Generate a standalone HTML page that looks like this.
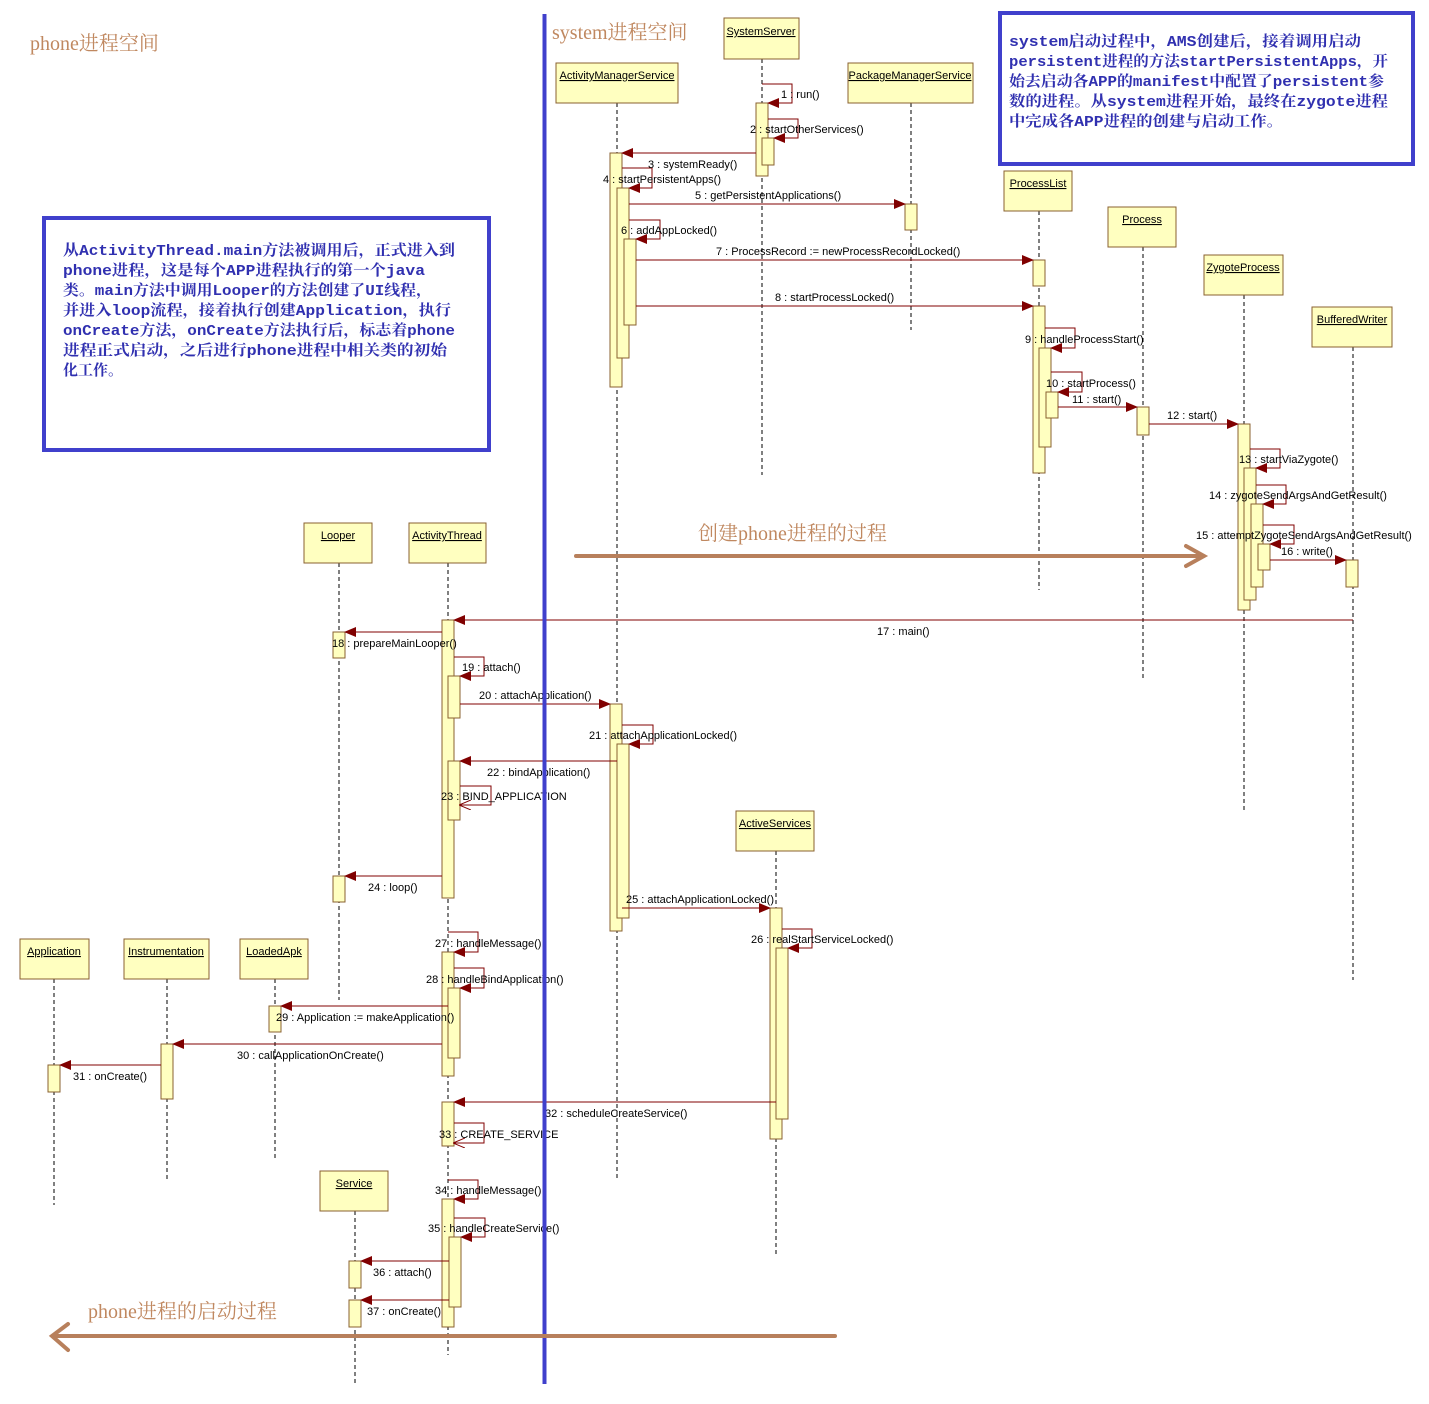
<!DOCTYPE html>
<html><head><meta charset="utf-8"><style>
html,body{margin:0;padding:0;background:#fff}
svg{display:block}
.m{font-family:"Liberation Sans",sans-serif;font-size:11px;fill:#000}
.c{font-family:"Liberation Sans",sans-serif;font-size:11px;fill:#000;text-decoration:underline;text-anchor:middle}
.bx{fill:#ffffc0;stroke:#8a6030;stroke-width:1}
.ll{stroke:#000;stroke-width:1;stroke-dasharray:4,3}
.ar{stroke:#800000;stroke-width:1;fill:none}
.bt{font-family:"Liberation Mono","Noto Serif CJK SC",serif;font-size:15px;font-weight:bold;fill:#3030b0}
.ot{font-family:"Liberation Serif","Noto Serif CJK SC",serif;font-size:20px;fill:#c08860}
</style></head><body>
<svg width="1429" height="1404" xmlns="http://www.w3.org/2000/svg">
<defs>
<marker id="a" markerWidth="12" markerHeight="10" refX="11" refY="5" orient="auto" markerUnits="userSpaceOnUse"><path d="M0,0 L12,5 L0,10 z" fill="#800000"/></marker>
<marker id="o" markerWidth="12" markerHeight="10" refX="11" refY="5" orient="auto" markerUnits="userSpaceOnUse"><path d="M0,0 L12,5 L0,10" fill="none" stroke="#800000"/></marker>
</defs>

<!-- lifelines -->
<g class="ll">
<line x1="762" y1="59" x2="762" y2="475"/>
<line x1="617" y1="103" x2="617" y2="1180"/>
<line x1="911" y1="103" x2="911" y2="330"/>
<line x1="1039" y1="211" x2="1039" y2="590"/>
<line x1="1143" y1="247" x2="1143" y2="680"/>
<line x1="1244" y1="295" x2="1244" y2="810"/>
<line x1="1353" y1="347" x2="1353" y2="980"/>
<line x1="339" y1="563" x2="339" y2="1000"/>
<line x1="448" y1="563" x2="448" y2="1355"/>
<line x1="776" y1="851" x2="776" y2="1255"/>
<line x1="54" y1="979" x2="54" y2="1205"/>
<line x1="167" y1="979" x2="167" y2="1180"/>
<line x1="275" y1="979" x2="275" y2="1160"/>
<line x1="355" y1="1211" x2="355" y2="1385"/>
</g>

<!-- class boxes -->
<g>
<rect class="bx" x="724" y="18" width="75" height="41"/><text class="c" x="761" y="35">SystemServer</text>
<rect class="bx" x="556" y="63" width="122" height="40"/><text class="c" x="617" y="79">ActivityManagerService</text>
<rect class="bx" x="848" y="63" width="125" height="40"/><text class="c" x="910" y="79">PackageManagerService</text>
<rect class="bx" x="1004" y="171" width="68" height="40"/><text class="c" x="1038" y="187">ProcessList</text>
<rect class="bx" x="1108" y="207" width="68" height="40"/><text class="c" x="1142" y="223">Process</text>
<rect class="bx" x="1204" y="255" width="79" height="40"/><text class="c" x="1243" y="271">ZygoteProcess</text>
<rect class="bx" x="1312" y="307" width="80" height="40"/><text class="c" x="1352" y="323">BufferedWriter</text>
<rect class="bx" x="304" y="523" width="68" height="40"/><text class="c" x="338" y="539">Looper</text>
<rect class="bx" x="409" y="523" width="77" height="40"/><text class="c" x="447" y="539">ActivityThread</text>
<rect class="bx" x="736" y="811" width="78" height="40"/><text class="c" x="775" y="827">ActiveServices</text>
<rect class="bx" x="20" y="939" width="69" height="40"/><text class="c" x="54" y="955">Application</text>
<rect class="bx" x="124" y="939" width="85" height="40"/><text class="c" x="166" y="955">Instrumentation</text>
<rect class="bx" x="240" y="939" width="68" height="40"/><text class="c" x="274" y="955">LoadedApk</text>
<rect class="bx" x="320" y="1171" width="68" height="40"/><text class="c" x="354" y="1187">Service</text>
</g>

<!-- activation bars -->
<g>
<rect class="bx" x="756" y="103" width="12" height="73"/><rect class="bx" x="762" y="138" width="12" height="27"/>
<rect class="bx" x="610" y="153" width="12" height="234"/><rect class="bx" x="617" y="188" width="12" height="170"/><rect class="bx" x="624" y="239" width="12" height="86"/>
<rect class="bx" x="905" y="204" width="12" height="26"/>
<rect class="bx" x="1033" y="260" width="12" height="26"/>
<rect class="bx" x="1033" y="306" width="12" height="167"/><rect class="bx" x="1039" y="348" width="12" height="99"/><rect class="bx" x="1046" y="392" width="12" height="26"/>
<rect class="bx" x="1137" y="407" width="12" height="28"/>
<rect class="bx" x="1238" y="424" width="12" height="186"/><rect class="bx" x="1244" y="468" width="12" height="132"/><rect class="bx" x="1251" y="504" width="12" height="83"/><rect class="bx" x="1258" y="544" width="12" height="26"/>
<rect class="bx" x="1346" y="560" width="12" height="27"/>
<rect class="bx" x="442" y="620" width="12" height="278"/><rect class="bx" x="448" y="676" width="12" height="42"/><rect class="bx" x="448" y="761" width="12" height="59"/>
<rect class="bx" x="333" y="632" width="12" height="26"/><rect class="bx" x="333" y="876" width="12" height="26"/>
<rect class="bx" x="610" y="704" width="12" height="227"/><rect class="bx" x="617" y="744" width="12" height="174"/>
<rect class="bx" x="770" y="908" width="12" height="231"/><rect class="bx" x="776" y="948" width="12" height="171"/>
<rect class="bx" x="442" y="952" width="12" height="124"/><rect class="bx" x="448" y="988" width="12" height="70"/>
<rect class="bx" x="269" y="1006" width="12" height="26"/>
<rect class="bx" x="161" y="1044" width="12" height="55"/>
<rect class="bx" x="48" y="1065" width="12" height="27"/>
<rect class="bx" x="442" y="1102" width="12" height="44"/>
<rect class="bx" x="442" y="1199" width="12" height="128"/><rect class="bx" x="449" y="1237" width="12" height="70"/>
<rect class="bx" x="349" y="1261" width="12" height="27"/><rect class="bx" x="349" y="1300" width="12" height="27"/>
</g>

<!-- messages -->
<g class="ar" marker-end="url(#a)">
<path d="M762,84 H792 V103 H768"/>
<path d="M768,119 H798 V138 H774"/>
<path d="M756,153 H622"/>
<path d="M622,168 H652 V188 H629"/>
<path d="M629,204 H905"/>
<path d="M629,220 H660 V239 H636"/>
<path d="M636,260 H1033"/>
<path d="M636,306 H1033"/>
<path d="M1045,328 H1075 V348 H1051"/>
<path d="M1051,372 H1082 V392 H1058"/>
<path d="M1058,407 H1137"/>
<path d="M1149,424 H1238"/>
<path d="M1250,449 H1280 V468 H1256"/>
<path d="M1256,485 H1286 V504 H1263"/>
<path d="M1263,525 H1294 V544 H1270"/>
<path d="M1270,560 H1346"/>
<path d="M1353,620 H454"/>
<path d="M442,632 H345"/>
<path d="M454,657 H484 V676 H460"/>
<path d="M460,704 H610"/>
<path d="M622,725 H653 V744 H629"/>
<path d="M617,761 H460"/>
<path d="M442,876 H345"/>
<path d="M622,908 H770"/>
<path d="M782,929 H812 V948 H788"/>
<path d="M448,932 H478 V952 H454"/>
<path d="M454,968 H484 V988 H460"/>
<path d="M448,1006 H281"/>
<path d="M442,1044 H173"/>
<path d="M161,1065 H60"/>
<path d="M776,1102 H454"/>
<path d="M448,1180 H478 V1199 H454"/>
<path d="M454,1218 H485 V1237 H461"/>
<path d="M449,1261 H361"/>
<path d="M449,1300 H361"/>
</g>
<g class="ar" marker-end="url(#o)">
<path d="M460,786 H491 V805 H460"/>
<path d="M454,1123 H484 V1143 H454"/>
</g>

<g class="m">
<text x="781" y="98">1 : run()</text>
<text x="750" y="133">2 : startOtherServices()</text>
<text x="648" y="168">3 : systemReady()</text>
<text x="603" y="183">4 : startPersistentApps()</text>
<text x="695" y="199">5 : getPersistentApplications()</text>
<text x="621" y="234">6 : addAppLocked()</text>
<text x="716" y="255">7 : ProcessRecord := newProcessRecordLocked()</text>
<text x="775" y="301">8 : startProcessLocked()</text>
<text x="1025" y="343">9 : handleProcessStart()</text>
<text x="1046" y="387">10 : startProcess()</text>
<text x="1072" y="403">11 : start()</text>
<text x="1167" y="419">12 : start()</text>
<text x="1239" y="463">13 : startViaZygote()</text>
<text x="1209" y="499">14 : zygoteSendArgsAndGetResult()</text>
<text x="1196" y="539">15 : attemptZygoteSendArgsAndGetResult()</text>
<text x="1281" y="555">16 : write()</text>
<text x="877" y="635">17 : main()</text>
<text x="332" y="647">18 : prepareMainLooper()</text>
<text x="462" y="671">19 : attach()</text>
<text x="479" y="699">20 : attachApplication()</text>
<text x="589" y="739">21 : attachApplicationLocked()</text>
<text x="487" y="776">22 : bindApplication()</text>
<text x="441" y="800">23 : BIND_APPLICATION</text>
<text x="368" y="891">24 : loop()</text>
<text x="626" y="903">25 : attachApplicationLocked()</text>
<text x="751" y="943">26 : realStartServiceLocked()</text>
<text x="435" y="947">27 : handleMessage()</text>
<text x="426" y="983">28 : handleBindApplication()</text>
<text x="276" y="1021">29 : Application := makeApplication()</text>
<text x="237" y="1059">30 : callApplicationOnCreate()</text>
<text x="73" y="1080">31 : onCreate()</text>
<text x="545" y="1117">32 : scheduleCreateService()</text>
<text x="439" y="1138">33 : CREATE_SERVICE</text>
<text x="435" y="1194">34 : handleMessage()</text>
<text x="428" y="1232">35 : handleCreateService()</text>
<text x="373" y="1276">36 : attach()</text>
<text x="367" y="1315">37 : onCreate()</text>
</g>

<!-- blue divider and note boxes -->
<line x1="544.5" y1="14" x2="544.5" y2="1384" stroke="#4040cc" stroke-width="4"/>
<rect x="1000" y="13" width="413" height="151" fill="#fff" stroke="#4040cc" stroke-width="4"/>
<rect x="44" y="218" width="445" height="232" fill="#fff" stroke="#4040cc" stroke-width="4"/>
<g class="bt">
<text x="1009" y="46" textLength="352" lengthAdjust="spacingAndGlyphs">system启动过程中，AMS创建后，接着调用启动</text>
<text x="1009" y="66" textLength="379" lengthAdjust="spacingAndGlyphs">persistent进程的方法startPersistentApps，开</text>
<text x="1009" y="86" textLength="375" lengthAdjust="spacingAndGlyphs">始去启动各APP的manifest中配置了persistent参</text>
<text x="1009" y="106" textLength="379" lengthAdjust="spacingAndGlyphs">数的进程。从system进程开始，最终在zygote进程</text>
<text x="1009" y="126" textLength="274" lengthAdjust="spacingAndGlyphs">中完成各APP进程的创建与启动工作。</text>
<text x="63" y="255" textLength="392" lengthAdjust="spacingAndGlyphs">从ActivityThread.main方法被调用后，正式进入到</text>
<text x="63" y="275" textLength="362" lengthAdjust="spacingAndGlyphs">phone进程，这是每个APP进程执行的第一个java</text>
<text x="63" y="295" textLength="369" lengthAdjust="spacingAndGlyphs">类。main方法中调用Looper的方法创建了UI线程，</text>
<text x="63" y="315" textLength="388" lengthAdjust="spacingAndGlyphs">并进入loop流程，接着执行创建Application，执行</text>
<text x="63" y="335" textLength="392" lengthAdjust="spacingAndGlyphs">onCreate方法，onCreate方法执行后，标志着phone</text>
<text x="63" y="355" textLength="384" lengthAdjust="spacingAndGlyphs">进程正式启动，之后进行phone进程中相关类的初始</text>
<text x="63" y="375" textLength="60" lengthAdjust="spacingAndGlyphs">化工作。</text>
</g>

<!-- orange annotations -->
<g class="ot">
<text x="30" y="50">phone进程空间</text>
<text x="552" y="39">system进程空间</text>
<text x="698" y="540">创建phone进程的过程</text>
<text x="88" y="1318">phone进程的启动过程</text>
</g>
<g stroke="#b8805c" stroke-width="4" fill="none" stroke-linecap="round">
<line x1="576" y1="556" x2="1202" y2="556"/>
<path d="M1186,546 L1204,556 L1186,566"/>
<line x1="835" y1="1336" x2="54" y2="1336"/>
<path d="M68,1324 L52,1336 L68,1350"/>
</g>
</svg>
</body></html>
